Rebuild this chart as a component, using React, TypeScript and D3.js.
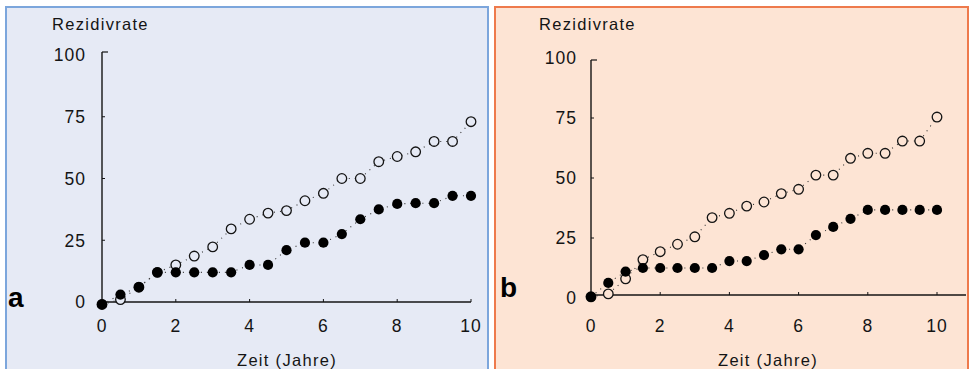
import * as d3 from "d3";

const years = [0, 0.5, 1, 1.5, 2, 2.5, 3, 3.5, 4, 4.5, 5, 5.5, 6, 6.5, 7, 7.5, 8, 8.5, 9, 9.5, 10];

// Panel a
const aOpen = [-1, 1, 6, 12, 15, 18.6, 22.3, 29.6, 33.5, 36, 37, 41, 44, 50, 50, 56.8, 58.9, 60.8, 65, 65, 73];
const aFilled = [-1, 3, 6, 12, 12, 12, 12, 12, 15, 15, 21, 24, 24, 27.5, 33.5, 37.5, 39.7, 40, 40, 43, 43];

// Panel b
const bOpen = [0.5, 1.7, 8, 16, 19.3, 22.4, 25.5, 33.5, 35.3, 38.3, 40, 43.5, 45.3, 51.2, 51.2, 58.2, 60.3, 60.3, 65.4, 65.4, 75.4];
const bFilled = [0.5, 6.3, 11, 12.5, 12.5, 12.5, 12.5, 12.5, 15.4, 15.4, 17.9, 20.3, 20.3, 26.2, 29.6, 33, 36.7, 36.7, 36.7, 36.7, 36.7];

const yTicks = [0, 25, 50, 75, 100];
const xTicks = [0, 2, 4, 6, 8, 10];

const font = "'Liberation Sans', Arial, sans-serif";
const ink = "#141414";

type PanelProps = {
  letter: string;
  box: { x: number; w: number };
  fill: string;
  stroke: string;
  xRange: [number, number];
  yRange: [number, number];
  axisY: number;
  axisTop: number;
  axisRight: number;
  tickLabelX: number;
  titleX: number;
  xLabelX: number;
  letterPos: { x: number; y: number };
  open: number[];
  filled: number[];
};

function Panel(p: PanelProps) {
  const x = d3.scaleLinear().domain([0, 10]).range(p.xRange);
  const y = d3.scaleLinear().domain([0, 100]).range(p.yRange);
  const x0 = x(0);

  const line = d3
    .line<number>()
    .x((_, i) => x(years[i]))
    .y((d) => y(d));

  return (
    <g>
      <rect x={p.box.x} y={7} width={p.box.w} height={380} fill={p.fill} stroke={p.stroke} strokeWidth={2} />

      {/* axes */}
      <line x1={x0} x2={x0} y1={p.axisTop} y2={p.axisY} stroke={ink} strokeWidth={1.4} />
      <line x1={x0} x2={x0 + 6} y1={p.axisTop} y2={p.axisTop} stroke={ink} strokeWidth={1.2} />
      <line x1={x0} x2={p.axisRight} y1={p.axisY} y2={p.axisY} stroke={ink} strokeWidth={1.6} />
      {yTicks.slice(1, -1).map((t) => (
        <line key={t} x1={x0} x2={x0 + 3} y1={y(t)} y2={y(t)} stroke={ink} strokeWidth={1} />
      ))}
      {xTicks.slice(1).map((t) => (
        <line key={t} x1={x(t)} x2={x(t)} y1={p.axisY} y2={p.axisY - 3} stroke={ink} strokeWidth={1} />
      ))}

      {/* tick labels */}
      {yTicks.map((t) => (
        <text key={t} x={p.tickLabelX} y={y(t)} dy="0.36em" textAnchor="end" fontSize={17.5} letterSpacing={1} fill={ink} fontFamily={font}>
          {t}
        </text>
      ))}
      {xTicks.map((t) => (
        <text key={t} x={x(t)} y={332} textAnchor="middle" fontSize={17.5} letterSpacing={1} fill={ink} fontFamily={font}>
          {t}
        </text>
      ))}

      <text x={p.titleX} y={30} fontSize={16.5} letterSpacing={1.3} fill={ink} fontFamily={font}>
        Rezidivrate
      </text>
      <text x={p.xLabelX} y={366} textAnchor="middle" fontSize={16.5} letterSpacing={1.3} fill={ink} fontFamily={font}>
        Zeit (Jahre)
      </text>
      <text x={p.letterPos.x} y={p.letterPos.y} fontSize={28} fontWeight="bold" fill="#000" fontFamily={font}>
        {p.letter}
      </text>

      {/* dotted connections */}
      <path d={line(p.open) ?? ""} fill="none" stroke="#333" strokeWidth={1.1} strokeDasharray="1 5" />
      <path d={line(p.filled) ?? ""} fill="none" stroke="#333" strokeWidth={1.1} strokeDasharray="1 5" />

      {p.open.map((v, i) => (
        <circle key={`o${i}`} cx={x(years[i])} cy={y(v)} r={4.8} fill={p.fill} stroke={ink} strokeWidth={1.3} />
      ))}
      {p.filled.map((v, i) => (
        <circle key={`f${i}`} cx={x(years[i])} cy={y(v)} r={5.1} fill="#000" />
      ))}
    </g>
  );
}

export default function App() {
  return (
    <svg width={970} height={369} style={{ position: "absolute", left: 0, top: 0 }}>
      <rect width={970} height={369} fill="#ffffff" />
      <Panel
        letter="a"
        box={{ x: 6, w: 482 }}
        fill="#e6eaf5"
        stroke="#7ca6dc"
        xRange={[102, 471]}
        yRange={[302, 55]}
        axisY={302}
        axisTop={52}
        axisRight={471}
        tickLabelX={86}
        titleX={52}
        xLabelX={287}
        letterPos={{ x: 8, y: 307 }}
        open={aOpen}
        filled={aFilled}
      />
      <Panel
        letter="b"
        box={{ x: 495, w: 473 }}
        fill="#fde4d4"
        stroke="#ee7a4c"
        xRange={[591, 937]}
        yRange={[298, 58]}
        axisY={295}
        axisTop={60}
        axisRight={966}
        tickLabelX={577}
        titleX={539}
        xLabelX={768}
        letterPos={{ x: 500, y: 297 }}
        open={bOpen}
        filled={bFilled}
      />
    </svg>
  );
}
